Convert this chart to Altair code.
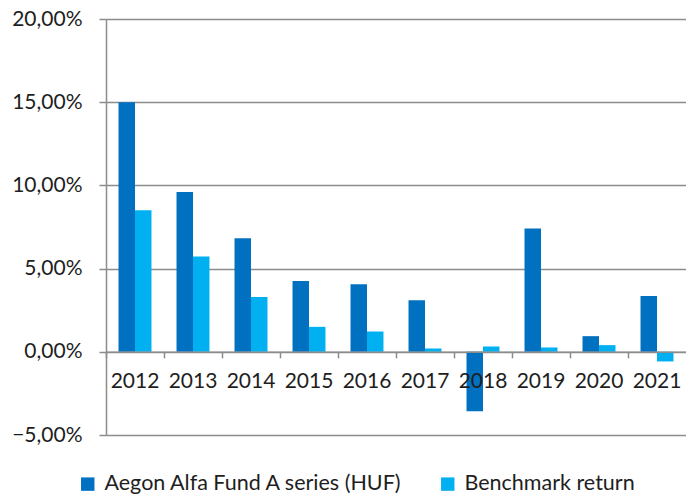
import altair as alt
import pandas as pd

years = ["2012", "2013", "2014", "2015", "2016", "2017", "2018", "2019", "2020", "2021"]
fund = [15.0, 9.60, 6.82, 4.26, 4.06, 3.10, -3.57, 7.41, 0.94, 3.36]
bench = [8.50, 5.72, 3.30, 1.50, 1.22, 0.20, 0.32, 0.26, 0.40, -0.58]
series_names = ["Aegon Alfa Fund A series (HUF)", "Benchmark return"]
colors = ["#0070C0", "#00B0F0"]
y_ticks = [-5, 0, 5, 10, 15, 20]

rows = []
for i, yr in enumerate(years):
    rows.append({"year": yr, "series": series_names[0], "value": fund[i]})
    rows.append({"year": yr, "series": series_names[1], "value": bench[i]})
df = pd.DataFrame(rows)

W, H = 580, 416
FONT = "Lato"
GRID = "#8c8c8c"
TXT = "#1e1e1e"

bars = alt.Chart(df).mark_bar().encode(
    x=alt.X(
        "year:N", sort=years, title=None,
        scale=alt.Scale(paddingInner=0, paddingOuter=0),
        axis=alt.Axis(
            bandPosition=0, labelAngle=0, offset=-H / 5, zindex=1,
            tickSize=6, tickColor=GRID, tickWidth=1.5,
            labelPadding=13, labelFont=FONT, labelFontSize=21, labelColor=TXT,
            domainColor=GRID, domainWidth=1.5, grid=False,
        ),
    ),
    xOffset=alt.XOffset("series:N", sort=series_names,
                        scale=alt.Scale(paddingInner=0, paddingOuter=0.76)),
    y=alt.Y(
        "value:Q", title=None,
        scale=alt.Scale(domain=[-5, 20], nice=False, zero=False),
        axis=alt.Axis(
            values=y_ticks,
            labelExpr="replace(format(datum.value, '.2f'), '.', ',') + '%'",
            tickSize=7, tickColor=GRID, tickWidth=1.5,
            labelPadding=17, labelFont=FONT, labelFontSize=21, labelColor=TXT,
            domainColor=GRID, domainWidth=1.5,
            grid=True, gridColor=GRID, gridWidth=1.5,
        ),
    ),
    color=alt.Color(
        "series:N", sort=series_names,
        scale=alt.Scale(domain=series_names, range=colors),
        legend=alt.Legend(
            title=None, orient="none", legendX=-29, legendY=454,
            direction="horizontal", symbolType="square", symbolSize=180,
            symbolStrokeWidth=0, labelFont=FONT, labelFontSize=21.5,
            labelColor=TXT, labelOffset=6, columnPadding=34, padding=0,
            labelLimit=0,
        ),
    ),
)

chart = bars.properties(
    width=W, height=H,
    autosize=alt.AutoSizeParams(type="none"),
    padding={"left": 98, "top": 11, "right": 0, "bottom": 60},
).configure_view(stroke=None)

chart.save("out.html", embed_options={"renderer": "svg", "actions": False})
